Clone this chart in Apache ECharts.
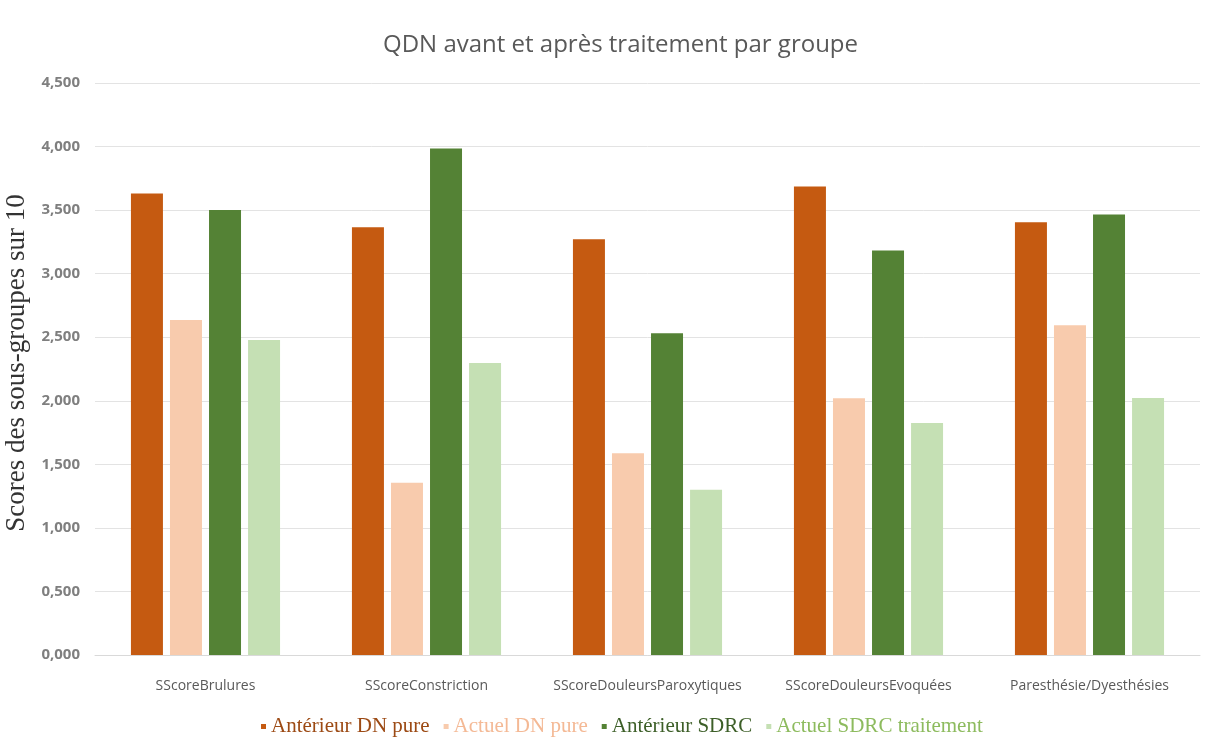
<!DOCTYPE html>
<html>
<head>
<meta charset="utf-8">
<script src="https://cdn.jsdelivr.net/npm/echarts@6/dist/echarts.min.js"></script>
<style>
  html, body { margin: 0; padding: 0; background: #fff; }
  #chart { width: 1218px; height: 756px; }
</style>
</head>
<body>
<div id="chart"></div>
<script>
var categories = ['SScoreBrulures', 'SScoreConstriction', 'SScoreDouleursParoxytiques', 'SScoreDouleursEvoquées', 'Paresthésie/Dyesthésies'];
var anterieurDN = [3630, 3365, 3270, 3685, 3405];
var actuelDN = [2635, 1355, 1587, 2020, 2595];
var anterieurSDRC = [3500, 3985, 2532, 3183, 3466];
var actuelSDRC = [2478, 2297, 1300, 1825, 2022];

var chart = echarts.init(document.getElementById('chart'));

// format "4,500" style labels (French decimal comma)
function fmt(v) {
    return (v / 1000).toFixed(3).replace('.', ',');
}

var option = {
    backgroundColor: '#fff',
    animation: false,
    title: {
        text: 'QDN avant et après traitement par groupe',
        left: 378,
        top: 28,
        textStyle: { fontFamily: 'Open Sans', fontSize: 24, fontWeight: 'normal', color: '#595959' }
    },
    grid: { left: 95, right: 18, top: 83, bottom: 101, outerBoundsMode: 'none' },
    legend: {
        bottom: 14,
        left: 256,
        itemWidth: 5,
        itemHeight: 5,
        itemGap: 14,
        icon: 'rect',
        textStyle: { fontFamily: 'Liberation Serif', fontSize: 21 },
        data: [
            { name: 'Antérieur DN pure', textStyle: { color: '#9C4A14' } },
            { name: 'Actuel DN pure', textStyle: { color: '#F4B995' } },
            { name: 'Antérieur SDRC', textStyle: { color: '#3D5F28' } },
            { name: 'Actuel SDRC traitement', textStyle: { color: '#8DBB5E' } }
        ]
    },
    xAxis: {
        type: 'category',
        data: categories,
        axisLine: { lineStyle: { color: '#d9d9d9' } },
        axisTick: { show: false },
        axisLabel: { interval: 0, hideOverlap: false, fontFamily: 'Open Sans', fontSize: 14, color: '#595959', margin: 24 }
    },
    yAxis: {
        type: 'value',
        min: 0,
        max: 4500,
        interval: 500,
        name: 'Scores des sous-groupes sur 10',
        nameLocation: 'middle',
        nameGap: 54,
        nameTextStyle: { fontFamily: 'Liberation Serif', fontSize: 27, color: '#333', padding: [0, 0, 0, 12] },
        axisLine: { show: false },
        axisTick: { show: false },
        splitLine: { lineStyle: { color: '#e3e3e3' } },
        axisLabel: { formatter: fmt, fontFamily: 'Open Sans', fontSize: 15, fontWeight: 'bold', color: '#7f7f7f', margin: 15 }
    },
    series: [
        { name: 'Antérieur DN pure', type: 'bar', data: anterieurDN, itemStyle: { color: '#C55A11' }, barWidth: 32, barGap: '22%' },
        { name: 'Actuel DN pure', type: 'bar', data: actuelDN, itemStyle: { color: '#F8CBAD' }, barWidth: 32, barGap: '22%' },
        { name: 'Antérieur SDRC', type: 'bar', data: anterieurSDRC, itemStyle: { color: '#548235' }, barWidth: 32, barGap: '22%' },
        { name: 'Actuel SDRC traitement', type: 'bar', data: actuelSDRC, itemStyle: { color: '#C5E0B4' }, barWidth: 32, barGap: '22%' }
    ]
};

chart.setOption(option);
</script>
</body>
</html>
